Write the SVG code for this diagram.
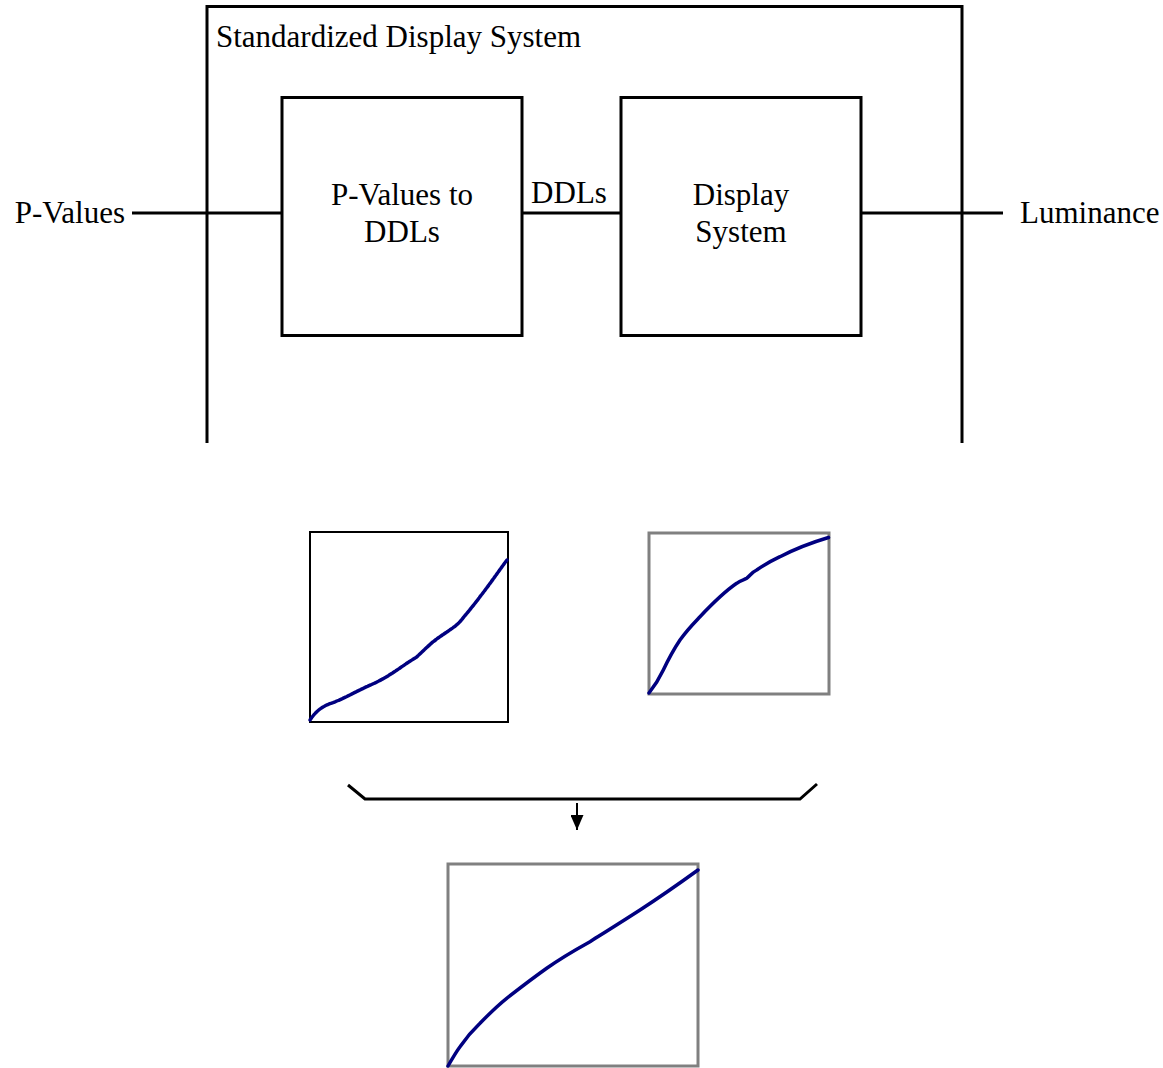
<svg xmlns="http://www.w3.org/2000/svg" width="1163" height="1068" viewBox="0 0 1163 1068">
<style>
.t{font-family:"Liberation Serif","Times New Roman",serif;font-size:31px;fill:#000}
.ln{stroke:#000;stroke-width:3;fill:none}
.bx{stroke:#000;stroke-width:3;fill:#fff}
.gb{stroke:#808080;stroke-width:3;fill:#fff}
.kb{stroke:#000;stroke-width:2;fill:#fff}
.cv{stroke:#000080;stroke-width:3.5;fill:none;stroke-linecap:round;stroke-linejoin:round}
</style>
<defs>
<marker id="ah" markerWidth="15" markerHeight="13" refX="15" refY="6.5" orient="auto" markerUnits="userSpaceOnUse" viewBox="0 0 15 13">
<path d="M0,0 L15,6.5 L0,13 Z" fill="#000"/>
</marker>
</defs>
<rect width="1163" height="1068" fill="#fff"/>
<g id="system">
<path class="ln" d="M207,443 V6.5 H962 V443"/>
<text class="t" x="216" y="47">Standardized Display System</text>
</g>
<g id="connectors">
<line class="ln" x1="132" y1="213" x2="282" y2="213"/>
<line class="ln" x1="522" y1="213" x2="624" y2="213"/>
<line class="ln" x1="861" y1="213" x2="1003" y2="213"/>
<path class="ln" d="M348,785 L365,799 H800 L817,784"/>
<line stroke="#000" stroke-width="2" x1="577" y1="803" x2="577" y2="830" marker-end="url(#ah)"/>
</g>
<g id="pvalues"><text class="t" x="125" y="223" text-anchor="end">P-Values</text></g>
<g id="luminance"><text class="t" x="1020" y="223">Luminance</text></g>
<g id="p2ddl">
<rect class="bx" x="282" y="97.5" width="240" height="238"/>
<text class="t" x="402" y="205" text-anchor="middle">P-Values to</text>
<text class="t" x="402" y="242" text-anchor="middle">DDLs</text>
</g>
<g id="ddls"><text class="t" x="569" y="203" text-anchor="middle">DDLs</text></g>
<g id="display">
<rect class="bx" x="621" y="97.5" width="240" height="238"/>
<text class="t" x="741" y="205" text-anchor="middle">Display</text>
<text class="t" x="741" y="242" text-anchor="middle">System</text>
</g>
<g id="chart1">
<rect class="kb" x="310" y="532" width="198" height="190"/>
<path class="cv" stroke-dasharray="3 1" d="M310,720 C318,708 326,705 333,702.7 C345,698 355,692 366.7,686.7 C380,681 390,675 400,668 C407,663 412,660 416.7,657 C425,649 432,642 440,636.7 C448,631 455,627 460,621.7 C467,613 474,605 480,596.7 C490,584 498,572 507,560"/>
</g>
<g id="chart2">
<rect class="gb" x="649" y="533" width="180" height="161"/>
<path class="cv" d="M649,693 C656,684 660,677 663.3,670 C669,658 674,649 680,640 C687,630 694,623 700,616.7 C712,604 724,592 736.7,583.3 C741,580 744,580 746.7,578.3 C750,576 752,572 756.7,570 C764,565 771,561 780,556.7 C795,549 810,543 828.5,537.5"/>
</g>
<g id="chart3">
<rect class="gb" x="448" y="864" width="250" height="202"/>
<path class="cv" d="M448,1066 C452,1059 456,1052 460,1046.7 C466,1038 473,1030 480,1023.3 C489,1014 497,1006 506.7,998.3 C520,988 533,978 546.7,968.3 C561,958 575,950 590,941.7 C607,931 623,921 640,910 C660,897 680,883 698,870"/>
</g>
</svg>
